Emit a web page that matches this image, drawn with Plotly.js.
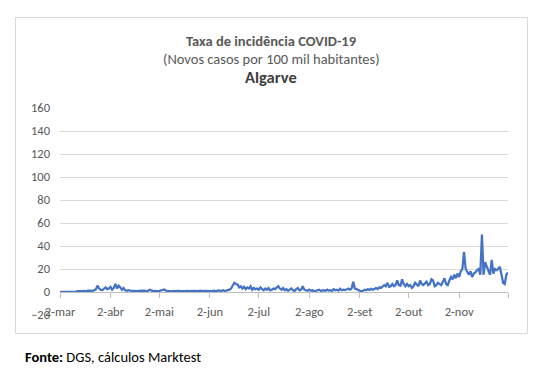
<!DOCTYPE html>
<html>
<head>
<meta charset="utf-8">
<script src="https://cdn.plot.ly/plotly-3.0.1.min.js"></script>
<style>html,body{margin:0;padding:0;background:#fff;}#chart{width:552px;height:378px;}</style>
</head>
<body>
<div id="chart"></div>
<script>
// Daily incidence (new cases per 100k), Algarve, from 2 March 2020
const startDate = '2020-03-02';
const mar = [0,0,0,0,0,0,0.3,0.3,0.5,0.5,0.4,0.8,0.6,1,0.8,1,0.6,1.2,1,1.3,1,1.6,2.2,5.5,3,2,1.5,3,4,2.5];
const abr = [3,4.5,2,3.5,7,3,5.5,4,2,3.5,1.5,1,1.5,1.2,1,1.4,1.2,0.8,1,1.2,0.8,1,1.2,0.8,1,2,1.2,0.8,1,0.6];
const mai = [0.8,1,1.2,1.6,2.2,1.2,0.8,1,0.6,0.8,1,0.7,0.9,1,0.8,0.6,1,0.8,0.9,0.5,0.7,1,0.8,0.6,1,0.8,1.2,0.8,0.7,1,0.9];
const jun = [0.8,1,0.7,1.2,1,0.8,1.3,1,0.9,1.5,1,1.2,1.4,2,3,5.5,8,7,6.5,4,5,3,4.5,2.5,4,3,5,2,3.5,2.5];
const jul = [3,2,4,2.5,1.5,3,2,3.5,1.5,2,3,2.5,4,5,3,2,3.5,1.5,2.5,1,2,3,1.5,1,2.5,3.5,1.5,2,5,2,1.5];
const ago = [1,2,1.2,1.5,0.8,1,1.5,2,1,1.2,1.5,1,2,1.2,1.6,1,2.5,1.5,2,1.2,2.8,1.5,2,1.6,2,3,2,3,9,3,2.5];
const set = [2,1.5,0.5,1,2,1.5,2.5,1.8,2.8,2,3,3.5,2.5,4,3.5,4.5,6,5,8,4.5,5,7,5,6,10,6,5.5,11,7,5];
const out = [7,5,6,3.5,5,8,6,5,10,7,6,8,9,6,7,11,10,5,6,8,7,6,9,12,7,6,10,13,11,15,12];
const nov = [16,13,18,20,35,20,17,15,18,13,16,17,19,20,15,50,15,26,22,19,15,28,16,20,19,20,22,15,8,7];
const dez = [15,17];

const tickVals = ['2020-03-02','2020-04-02','2020-05-02','2020-06-02','2020-07-02','2020-08-02','2020-09-02','2020-10-02','2020-11-02','2020-12-02'];
const tickText = ['2-mar','2-abr','2-mai','2-jun','2-jul','2-ago','2-set','2-out','2-nov',''];

const values = [].concat(mar, abr, mai, jun, jul, ago, set, out, nov, dez);
const dates = [];
const d0 = new Date(startDate + 'T00:00:00Z');
for (let i = 0; i < values.length; i++) {
  const d = new Date(d0.getTime() + i * 86400000);
  dates.push(d.toISOString().slice(0, 10));
}

const FONT = 'Carlito, Lato, "Open Sans", sans-serif';
const L = 60, R = 44, T = 108, B = 63; // plot area pixels
const H = 378 - T - B, W = 552 - L - R;
const py = p => (378 - B - p) / H;   // pixel y -> paper y
const px = p => (p - L) / W;         // pixel x -> paper x

const trace = {
  x: dates, y: values, type: 'scatter', mode: 'lines',
  line: {color: '#4472C4', width: 2.25}, hoverinfo: 'x+y'
};

const layout = {
  width: 552, height: 378,
  margin: {l: L, r: R, t: T, b: B, pad: 0},
  paper_bgcolor: '#ffffff', plot_bgcolor: '#ffffff',
  showlegend: false,
  font: {family: FONT, color: '#595959', size: 12},
  title: {
    text: '<b>Taxa de incidência COVID-19</b>',
    font: {family: FONT, size: 14.5, color: '#595959'},
    x: 271 / 552, xref: 'container', xanchor: 'center',
    y: 1 - 41 / 378, yref: 'container', yanchor: 'middle'
  },
  xaxis: {
    type: 'date',
    range: ['2020-03-02', '2020-12-02'],
    anchor: 'free', position: 20 / 180,
    tickmode: 'array', tickvals: tickVals, ticktext: tickText,
    showgrid: false, zeroline: false,
    showline: true, linecolor: '#bfbfbf', linewidth: 1,
    ticks: 'outside', ticklen: 5, tickcolor: '#bfbfbf', tickwidth: 1,
    tickfont: {family: FONT, size: 12.5, color: '#595959'},
    ticklabelstandoff: 3,
    fixedrange: true
  },
  yaxis: {
    range: [-20, 160], tickmode: 'linear', tick0: -20, dtick: 20,
    showgrid: true, gridcolor: '#d9d9d9', gridwidth: 1,
    zeroline: false, showline: false, ticks: '',
    tickfont: {family: FONT, size: 12.5, color: '#595959'},
    ticklabelstandoff: 9,
    fixedrange: true
  },
  shapes: [{
    type: 'rect', xref: 'paper', yref: 'paper', layer: 'below',
    x0: px(15.5), x1: px(527.5), y0: py(333.5), y1: py(17.5),
    line: {color: '#d9d9d9', width: 1}, fillcolor: 'rgba(0,0,0,0)'
  }],
  annotations: [
    {text: '(Novos casos por 100 mil habitantes)', xref: 'paper', yref: 'paper',
     x: px(271), y: py(59), xanchor: 'center', yanchor: 'middle', showarrow: false,
     font: {family: FONT, size: 14.5, color: '#595959'}},
    {text: '<b>Algarve</b>', xref: 'paper', yref: 'paper',
     x: px(271), y: py(77), xanchor: 'center', yanchor: 'middle', showarrow: false,
     font: {family: FONT, size: 16.5, color: '#404040'}},
    {text: '<b>Fonte:</b> DGS, cálculos Marktest', xref: 'paper', yref: 'paper',
     x: px(23), y: py(357), xanchor: 'left', yanchor: 'middle', showarrow: false,
     font: {family: FONT, size: 14.5, color: '#000000'}}
  ]
};

Plotly.newPlot('chart', [trace], layout, {displayModeBar: false, staticPlot: true});
</script>
</body>
</html>
